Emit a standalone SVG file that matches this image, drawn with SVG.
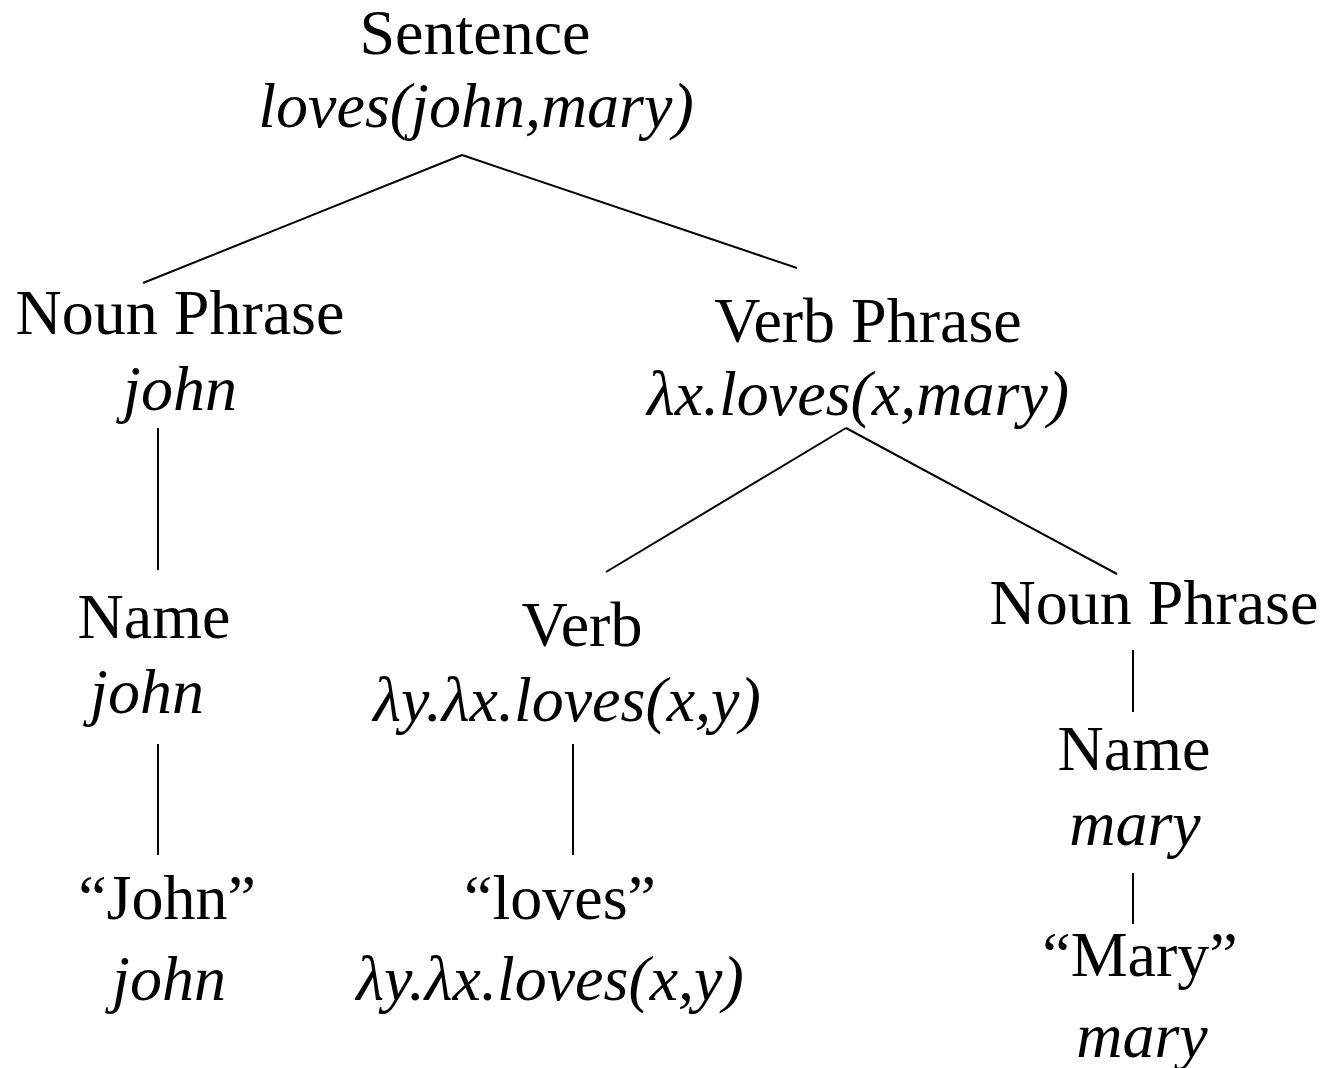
<svg xmlns="http://www.w3.org/2000/svg" width="1331" height="1068" viewBox="0 0 1331 1068">
  <style>
    text { font-family: "Liberation Serif", "Times New Roman", serif; font-size: 64px; fill: #000; text-anchor: middle; }
    .sem { font-style: italic; }
    .edge { stroke: #000; stroke-width: 2; fill: none; }
  </style>
  <rect width="1331" height="1068" fill="#fff"/>

  <g id="connectors">
    <line class="edge" x1="462" y1="155" x2="143" y2="283"/>
    <line class="edge" x1="462" y1="155" x2="797" y2="268"/>
    <line class="edge" x1="158" y1="428" x2="158" y2="570"/>
    <line class="edge" x1="158" y1="744" x2="158" y2="855"/>
    <line class="edge" x1="846" y1="428" x2="606" y2="572"/>
    <line class="edge" x1="846" y1="428" x2="1117" y2="574"/>
    <line class="edge" x1="573" y1="744" x2="573" y2="855"/>
    <line class="edge" x1="1133" y1="650" x2="1133" y2="712"/>
    <line class="edge" x1="1133" y1="873" x2="1133" y2="924"/>
  </g>

  <g id="sentence">
    <text x="475" y="54">Sentence</text>
    <text class="sem" x="476" y="127">loves(john,mary)</text>
  </g>
  <g id="np-john">
    <text x="180" y="334">Noun Phrase</text>
    <text class="sem" x="180" y="410">john</text>
  </g>
  <g id="vp">
    <text x="868" y="342">Verb Phrase</text>
    <text class="sem" x="858" y="415">λx.loves(x,mary)</text>
  </g>
  <g id="name-john">
    <text x="154" y="638">Name</text>
    <text class="sem" x="147" y="713">john</text>
  </g>
  <g id="verb">
    <text x="582" y="646">Verb</text>
    <text class="sem" x="567" y="721">λy.λx.loves(x,y)</text>
  </g>
  <g id="np-mary">
    <text x="1154" y="624">Noun Phrase</text>
  </g>
  <g id="name-mary">
    <text x="1134" y="770">Name</text>
    <text class="sem" x="1135" y="845">mary</text>
  </g>
  <g id="word-john">
    <text x="167" y="919">“John”</text>
    <text class="sem" x="169" y="1000">john</text>
  </g>
  <g id="word-loves">
    <text x="560" y="919">“loves”</text>
    <text class="sem" x="550" y="1000">λy.λx.loves(x,y)</text>
  </g>
  <g id="word-mary">
    <text x="1140" y="976">“Mary”</text>
    <text class="sem" x="1142" y="1057">mary</text>
  </g>
</svg>
